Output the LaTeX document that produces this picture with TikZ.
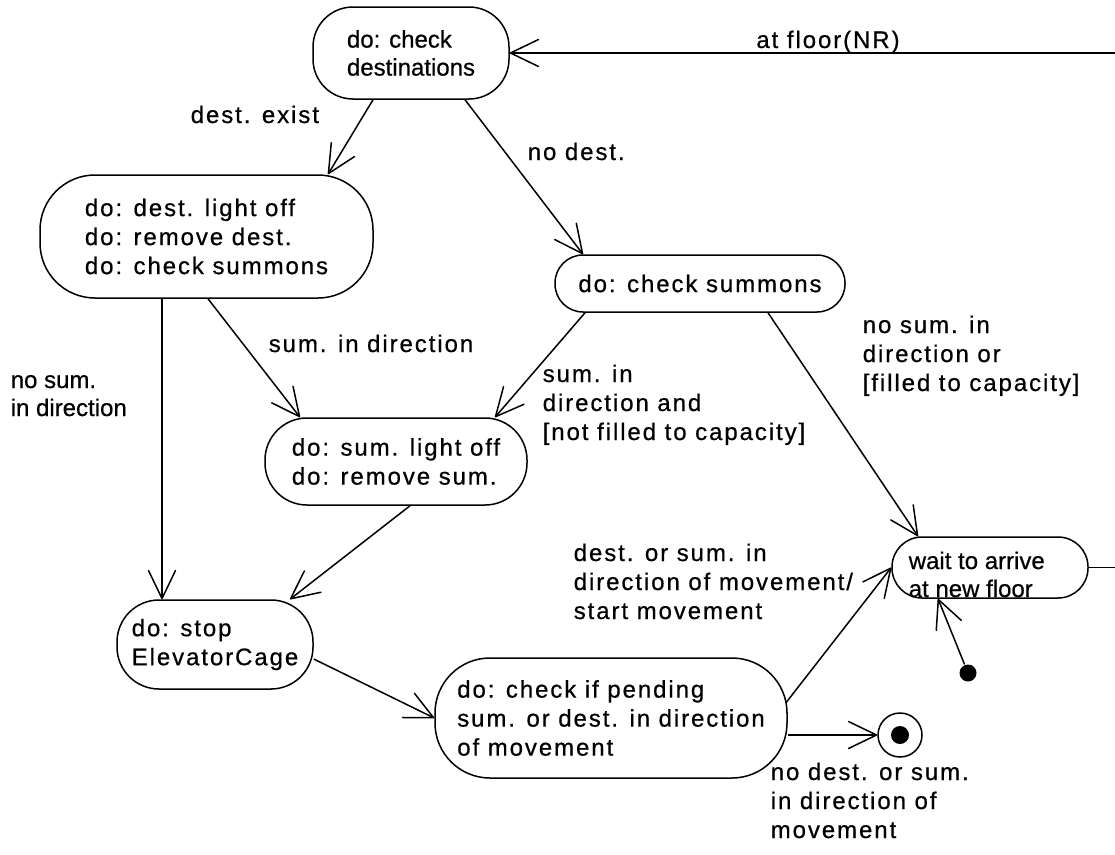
\documentclass[tikz,border=0pt]{standalone}
\usepackage{fontspec}
\setmainfont{Liberation Sans}[FakeBold=0.6]
\newfontfamily\spacedsans{Liberation Sans}[LetterSpace=8,FakeBold=0.6]
\usetikzlibrary{arrows.meta}
\begin{document}
\begin{tikzpicture}[x=1pt,y=-1pt,line width=1.5pt,
  >={Straight Barb[length=28pt,width=27pt,round]},
  state/.style={draw,rounded corners=#1,inner sep=0pt,align=left,
    font=\spacedsans\fontsize{24}{29}\selectfont},
  plainstate/.style={draw,rounded corners=#1,inner sep=0pt,align=left,
    font=\fontsize{24}{28}\selectfont},
  lbl/.style={inner sep=0pt,align=left,anchor=base west,
    font=\spacedsans\fontsize{24}{29}\selectfont},
  plainlbl/.style={inner sep=0pt,align=left,anchor=base west,
    font=\fontsize{24}{28}\selectfont},
  trans/.style={->}]
\useasboundingbox (0,0) rectangle (1115,854);
\fill[white] (0,0) rectangle (1115,854);

% states
\node[plainstate=40,minimum width=196pt,minimum height=92pt] (A) at (411,53)
  {do: check\\destinations};
\node[state=55,minimum width=333pt,minimum height=123pt] (B) at (206.5,236.5)
  {do: dest. light off\\do: remove dest.\\do: check summons};
\node[state=28,minimum width=290pt,minimum height=57pt] (C) at (700,283.5)
  {do: check summons};
\node[state=42,minimum width=262pt,minimum height=87pt] (D) at (396,461.5)
  {do: sum. light off\\do: remove sum.};
\node[state=42,minimum width=196pt,minimum height=89pt] (E) at (215,644.5)
  {do: stop\\ElevatorCage};
\node[state=55,minimum width=352pt,minimum height=120pt] (F) at (611,718)
  {do: check if pending\\sum. or dest. in direction\\of movement};
\node[draw,rounded corners=30pt,minimum width=196pt,minimum height=61pt] (G) at (990,567.5) {};
% multi-line labels are anchored at the baseline of their last line
\node[plainlbl] (Gtext) at (908,597) {wait to arrive\\at new floor};

% pseudo states
\node[circle,fill,minimum size=17pt,inner sep=0pt] (init) at (968,673) {};
\node[circle,draw,minimum size=44pt,inner sep=0pt] (fin) at (900,735) {};
\node[circle,fill,minimum size=18pt,inner sep=0pt] (findot) at (fin.center) {};

% loose ends leaving the picture
\coordinate (floorIn) at (1115,53);
\coordinate (gOut) at (1115,567.5);

% transitions
\draw[trans] (floorIn) -- (A.east);
\draw[trans] ([xshift=-38pt]A.south) -- ([xshift=121.5pt]B.north);
\draw[trans] ([xshift=54pt]A.south) -- ([xshift=-117pt]C.north);
\draw[trans] ([xshift=-44.5pt]B.south) -- ([xshift=-53pt]E.north);
\draw[trans] ([xshift=1.5pt]B.south) -- ([xshift=-96pt]D.north);
\draw[trans] ([xshift=-115pt]C.south) -- ([xshift=99pt]D.north);
\draw[trans] ([xshift=68pt]C.south) -- ([xshift=-72pt]G.north);
\draw[trans] ([xshift=14pt]D.south) -- ([xshift=75pt]E.north);
\draw[trans] ([yshift=-14.5pt]E.east) -- (F.west);
\draw[trans] ([yshift=15pt,xshift=-2pt]F.east) -- (G.west);
\draw[trans] ([yshift=-17pt]F.east) -- (fin.west);
\draw[trans] (init) -- ([xshift=-52pt]G.south);
\draw (G.east) -- (gOut);

% transition labels
\node[lbl,anchor=base] (lFloor) at (828,48) {at floor(NR)};
\node[lbl] (lExist) at (190,123) {dest. exist};
\node[lbl] (lNoDest) at (527,160) {no dest.};
\node[plainlbl] (lNoSumB) at (10,416) {no sum.\\in direction};
\node[lbl] (lSumB) at (268,352) {sum. in direction};
\node[lbl] (lSumC) at (542,440) {sum. in\\direction and\\{[}not filled to capacity{]}};
\node[lbl] (lNoSumC) at (862,391) {no sum. in\\direction or\\{[}filled to capacity{]}};
\node[lbl] (lGo) at (573,619) {dest. or sum. in\\direction of movement/\\start movement};
\node[lbl] (lStop) at (770,838) {no dest. or sum.\\in direction of\\movement};
\end{tikzpicture}
\end{document}
